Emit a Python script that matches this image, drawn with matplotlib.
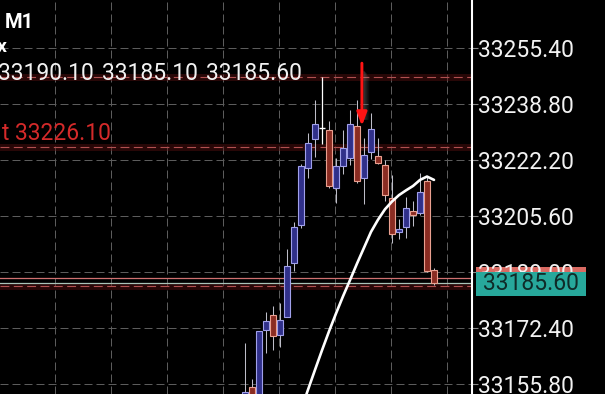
import numpy as np
import matplotlib
matplotlib.use("Agg")
import matplotlib.pyplot as plt
from matplotlib.patches import Rectangle

plt.rcParams['font.family'] = ['Roboto', 'DejaVu Sans']

# M1 bars, leftmost visible bar first
opens  = [33151.0, 33155.0, 33151.0, 33171.7, 33176.2, 33170.2, 33175.8, 33191.6,
          33202.9, 33219.7, 33228.3, 33231.8, 33231.2, 33213.8, 33220.5, 33222.7,
          33232.3, 33216.8, 33224.7, 33223.4, 33220.7, 33210.8, 33200.8, 33202.4,
          33207.2, 33206.4, 33216.1, 33189.6]
highs  = [33168.1, 33157.3, 33171.6, 33177.2, 33178.9, 33179.7, 33195.8, 33203.9,
          33221.0, 33230.1, 33240.0, 33246.8, 33233.9, 33222.9, 33231.1, 33237.0,
          33240.0, 33228.7, 33236.1, 33228.6, 33222.2, 33217.8, 33204.6, 33211.3,
          33210.1, 33218.3, 33217.3, 33190.1]
lows   = [33149.5, 33150.5, 33150.0, 33165.1, 33165.9, 33166.9, 33175.6, 33189.4,
          33202.0, 33217.0, 33223.0, 33227.0, 33213.9, 33209.4, 33218.0, 33220.7,
          33215.5, 33209.2, 33222.5, 33221.0, 33210.0, 33197.5, 33198.8, 33199.0,
          33202.6, 33205.9, 33189.1, 33185.1]
closes = [33153.4, 33151.5, 33171.5, 33174.5, 33170.0, 33174.7, 33190.8, 33202.3,
          33220.4, 33227.1, 33232.9, 33231.8, 33214.6, 33220.3, 33225.8, 33232.9,
          33216.1, 33223.7, 33231.3, 33221.2, 33211.7, 33200.3, 33201.7, 33207.9,
          33205.9, 33212.8, 33189.3, 33185.6]

# moving average, starts at bar 8
ma_start = 8
ma_vals = [33148.1, 33154.1, 33160.0, 33165.8, 33171.4, 33176.7, 33181.8, 33186.6,
           33191.5, 33196.2, 33200.9, 33204.5, 33207.6, 33209.9, 33211.8, 33213.2,
           33214.5, 33216.3, 33217.3, 33216.3]

price_ticks = [33155.80, 33172.40, 33189.00, 33205.60, 33222.20, 33238.80, 33255.40]
grid_bars = [-27.14, -19.14, -11.14, -3.14, 4.86, 12.86, 20.86, 28.86]
order_levels = [33246.9, 33226.1, 33184.9]
ask_price = 33187.10
bid_price = 33185.60
ohlc_values = [33190.10, 33185.10, 33185.60]
level_text = "t 33226.10"
arrow_bar = 16.7
arrow_from = 33250.9
arrow_to = 33232.3

W, H = 605, 394
def fx(p):
    return p / W
def fy(p):
    return 1 - p / H

fig = plt.figure(figsize=(W / 100, H / 100), dpi=100, facecolor='black')
ax = fig.add_axes([0, 0, 472.5 / W, 1])
ax.set_facecolor('black')
ax.set_xlim(-35, 32.5)
ax.set_ylim(33152.84, 33269.63)

# grid
ax.set_xticks(grid_bars)
ax.set_yticks(price_ticks)
ax.set_yticklabels([f'{t:.2f}' for t in price_ticks])
ax.grid(True, color='#5c5c5c', lw=0.72, linestyle=(0, (8, 4)))
ax.set_axisbelow(True)
ax.tick_params(axis='x', length=0, labelbottom=False)
ax.yaxis.tick_right()
ax.tick_params(axis='y', direction='out', length=4, width=0.8, color='#8a8a8a',
               labelcolor='#f2f2f2', labelsize=16.5, pad=0.3)
for s in ['left', 'top', 'bottom']:
    ax.spines[s].set_visible(False)
ax.spines['right'].set_color('white')
ax.spines['right'].set_linewidth(1.5)

# order levels (dashed red with glow)
for lv in order_levels:
    ax.axhline(lv, color='#5a1010', lw=5, alpha=0.45, zorder=1)
    ax.axhline(lv, color='#b05050', lw=0.8, linestyle=(0, (8, 4)), zorder=1.5)
ax.axhline(ask_price, color='#cf7070', lw=0.9, zorder=1.6)
ax.axhline(bid_price, color='#a9c4b8', lw=0.9, zorder=1.6)

# candles
x = np.arange(len(opens))
o, h, l, c = map(np.array, (opens, highs, lows, closes))
up = c > o
dn = c < o
fl = c == o
ax.vlines(x[up | dn], l[up | dn], h[up | dn], color='#bdbdc8', lw=0.75, zorder=2)
ax.bar(x[up], (c - o)[up], bottom=o[up], width=0.72, color='#30308a',
       edgecolor='#a0a0ea', lw=0.8, zorder=3)
ax.bar(x[dn], (o - c)[dn], bottom=c[dn], width=0.72, color='#8a2c22',
       edgecolor='#eaa090', lw=0.8, zorder=3)
ax.vlines(x[fl], l[fl], h[fl], color='white', lw=0.9, zorder=3)
ax.hlines(c[fl], x[fl] - 0.4, x[fl] + 0.4, color='white', lw=1.0, zorder=3)

# moving average
ax.plot(x[ma_start:], ma_vals, color='white', lw=1.9, solid_capstyle='round', zorder=4)

# arrow with soft shadow
for k in range(6):
    ax.plot([arrow_bar + (2 + k) / 7] * 2, [arrow_from - 2.5 - k * 0.4, arrow_to + 2],
            color='#9a9a9a', lw=1.2, alpha=0.22 * (1 - k / 6), zorder=4.5)
ax.annotate('', xy=(arrow_bar, arrow_to), xytext=(arrow_bar, arrow_from),
            arrowprops=dict(arrowstyle='-|>,head_length=0.8,head_width=0.3',
                            color='#ff1414', lw=2.1, mutation_scale=10,
                            shrinkA=0, shrinkB=0), zorder=5)

# header texts
fig.text(fx(5), fy(28.5), 'M1', color='white', fontsize=14.5, fontweight='bold',
         ha='left', va='baseline')
fig.text(fx(7), fy(51.5), 'x', color='white', fontsize=14, fontweight='bold',
         ha='right', va='baseline')
for k, v in enumerate(ohlc_values):
    fig.text(fx(302 - 104 * (len(ohlc_values) - 1 - k)), fy(80), f'{v:.2f}',
             color='#f2f2f2', fontsize=16.5, ha='right', va='baseline')
fig.text(fx(111), fy(140.5), level_text, color='#d42a2a', fontsize=16.5,
         ha='right', va='baseline')

# price labels on the scale
fig.add_artist(Rectangle((fx(475.7), fy(290)), (586 - 475.7) / W, 23.5 / H,
                         transform=fig.transFigure, facecolor='#d96a62',
                         edgecolor='none', zorder=-1))
fig.add_artist(Rectangle((fx(475.7), fy(296)), (586 - 475.7) / W, 23.7 / H,
                         transform=fig.transFigure, facecolor='#27a89b',
                         edgecolor='none', zorder=5))
fig.text(fx(531), fy(290.5), f'{bid_price:.2f}', color='#0f2b28', fontsize=16.5,
         ha='center', va='baseline', zorder=6)

fig.savefig('out.png', dpi=100, facecolor='black')
